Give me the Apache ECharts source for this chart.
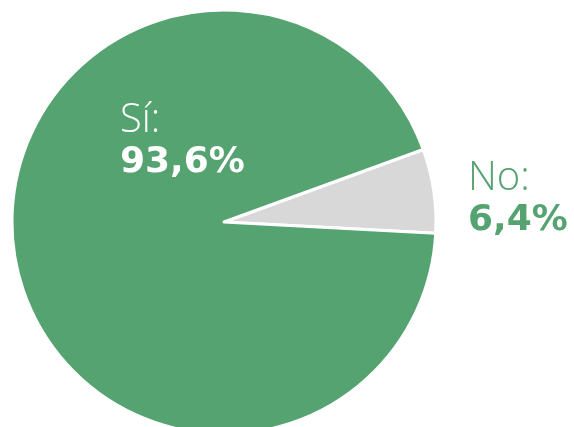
<!DOCTYPE html>
<html>
<head>
<meta charset="utf-8">
<script src="https://cdn.jsdelivr.net/npm/echarts@6/dist/echarts.min.js"></script>
<style>
  html, body { margin: 0; padding: 0; background: #ffffff; }
  #chart { width: 574px; height: 427px; }
</style>
</head>
<body>
<div id="chart"></div>
<script>
// Answer categories and their shares (%)
const categories = ['No', 'Sí'];
const shares = [6.4, 93.6];
const sliceColors = ['#d8d8d8', '#55a371'];
const labelColors = ['#55a371', '#ffffff'];
// Where each label block sits (top-left corner, px)
const labelAnchors = [[468, 157], [120, 99]];

const chart = echarts.init(document.getElementById('chart'), null, { renderer: 'canvas' });

const fmt = v => v.toFixed(1).replace('.', ',') + '%';

chart.setOption({
  animation: false,
  series: [{
    type: 'pie',
    center: [224, 222],
    radius: 212,
    startAngle: 20,
    clockwise: true,
    silent: true,
    itemStyle: { borderColor: '#ffffff', borderWidth: 3 },
    label: {
      show: true,
      position: 'inside',
      formatter: p => '{name|' + p.name + ':}\n{val|' + fmt(p.value) + '}',
      rich: {
        name: { fontFamily: 'Open Sans', fontWeight: 300, fontSize: 40, lineHeight: 43 },
        val: { fontFamily: 'DejaVu Sans', fontWeight: 'bold', fontSize: 36, lineHeight: 41 }
      }
    },
    labelLine: { show: false },
    labelLayout: p => ({
      x: labelAnchors[p.dataIndex][0],
      y: labelAnchors[p.dataIndex][1],
      align: 'left',
      verticalAlign: 'top'
    }),
    data: categories.map((c, i) => ({
      name: c,
      value: shares[i],
      itemStyle: { color: sliceColors[i] },
      label: {
        color: labelColors[i],
        rich: {
          name: { color: labelColors[i] },
          val: { color: labelColors[i] }
        }
      }
    }))
  }]
});
</script>
</body>
</html>
